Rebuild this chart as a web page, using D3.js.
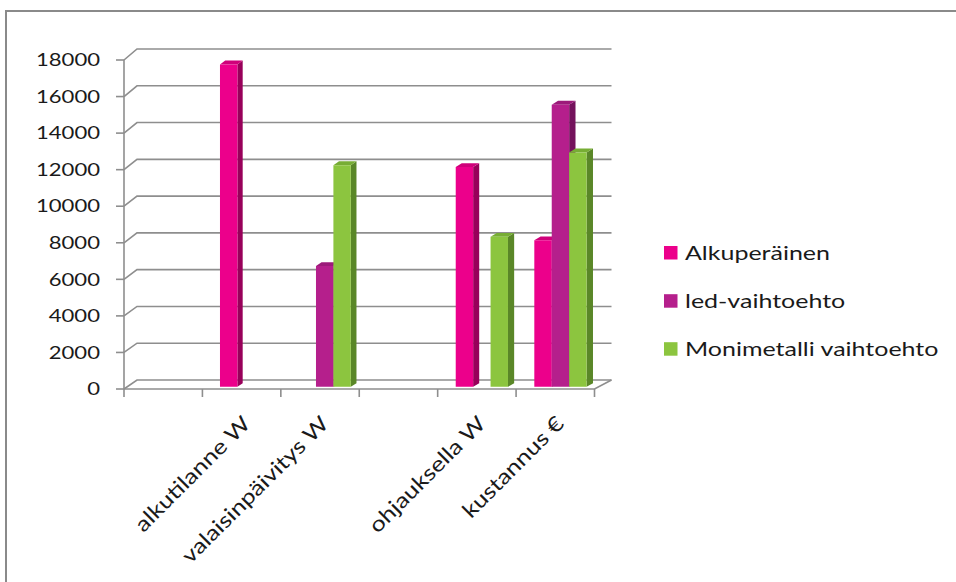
<!DOCTYPE html>
<html>
<head>
<meta charset="utf-8">
<script src="https://cdn.jsdelivr.net/npm/d3@7"></script>
<style>
  html, body { margin: 0; padding: 0; background: #fff; }
  svg { display: block; }
  text { font-family: Lato, "Open Sans", sans-serif; fill: #1a1a1a; }
</style>
</head>
<body>
<svg id="chart" width="956" height="582"></svg>
<script>
// Categories (two empty slots keep the spacing of the original sheet)
const categories = ["", "alkutilanne W", "valaisinpäivitys W", "", "ohjauksella W", "kustannus €"];
const seriesNames = ["Alkuperäinen", "led-vaihtoehto", "Monimetalli vaihtoehto"];
const alkuperainen = [null, 17600, null, null, 12000, 8000];
const ledVaihtoehto = [null, null, 6600, null, null, 15400];
const monimetalli = [null, null, 12100, null, 8200, 12800];
const yTicks = [0, 2000, 4000, 6000, 8000, 10000, 12000, 14000, 16000, 18000];

const seriesValues = [alkuperainen, ledVaihtoehto, monimetalli];
const colors = {
  "Alkuperäinen":           { front: "#ec008b", side: "#98005a", top: "#cf007a" },
  "led-vaihtoehto":         { front: "#b51f8c", side: "#74125c", top: "#9c1a7a" },
  "Monimetalli vaihtoehto": { front: "#8cc53f", side: "#5a8728", top: "#77ad34" }
};

const svg = d3.select("#chart");
const n = categories.length;

// Front plane and back wall of the 3-D box
const xFront = d3.scaleLinear().domain([0, n]).range([124, 594.5]);
const xBack  = d3.scaleLinear().domain([0, n]).range([137, 611.5]);
const yFront = d3.scaleLinear().domain([0, 18000]).range([389, 60]);
const yBack  = d3.scaleLinear().domain([0, 18000]).range([380, 49]);

// u: position along category axis, v: value, f: depth (0 = front, 1 = back)
function proj(u, v, f) {
  const xf = xFront(u), xb = xBack(u), yf = yFront(v), yb = yBack(v);
  return [xf + (xb - xf) * f, yf + (yb - yf) * f];
}
const line = d3.line();

// Outer frame
svg.append("rect")
  .attr("x", 6).attr("y", 11).attr("width", 980).attr("height", 620)
  .attr("fill", "none").attr("stroke", "#8a8a8a").attr("stroke-width", 2);

const grid = svg.append("g")
  .attr("fill", "none").attr("stroke", "#8e8e8e").attr("stroke-width", 1.6);

// Gridlines: slanted on the side wall, horizontal on the back wall
yTicks.forEach(t => {
  grid.append("path").attr("d", line([proj(0, t, 0), proj(0, t, 1), proj(n, t, 1)]));
});
// Floor edges
grid.append("path").attr("d", line([proj(0, 0, 0), proj(n, 0, 0), proj(n, 0, 1)]));
// Value axis line and ticks
grid.append("path").attr("d", line([proj(0, 0, 0), proj(0, 18000, 0)]));
yTicks.forEach(t => {
  const [x, y] = proj(0, t, 0);
  grid.append("path").attr("d", line([[x - 8, y], [x, y]]));
});
// Category axis ticks
d3.range(n + 1).forEach(i => {
  const [x, y] = proj(i, 0, 0);
  grid.append("path").attr("d", line([[x, y], [x, y + 8]]));
});

// Value labels
svg.append("g").selectAll("text").data(yTicks).join("text")
  .attr("transform", d => `translate(100,${yFront(d) + 6.2}) scale(1.3,1)`)
  .attr("text-anchor", "end")
  .attr("font-size", 17)
  .text(d => d);

// Category labels, rotated
svg.append("g").selectAll("text").data(categories).join("text")
  .attr("transform", (d, i) => `translate(${xFront(i + 0.5) + 10},${425}) rotate(-45) scale(1.2,1)`)
  .attr("text-anchor", "end")
  .attr("font-size", 21)
  .text(d => d);

// Bars
const inner = d3.scaleBand().domain(seriesNames).range([0.18, 0.845]);
const f0 = 0.25, f1 = 0.63;
const bars = svg.append("g");
categories.forEach((c, i) => {
  seriesNames.forEach((s, k) => {
    const v = seriesValues[k][i];
    if (v == null) return;
    const u0 = i + inner(s), u1 = u0 + inner.bandwidth();
    const col = colors[s];
    const g = bars.append("g");
    g.append("path").attr("fill", col.side)
      .attr("d", line([proj(u1, 0, f0), proj(u1, 0, f1), proj(u1, v, f1), proj(u1, v, f0)]) + "Z");
    g.append("path").attr("fill", col.top)
      .attr("d", line([proj(u0, v, f0), proj(u1, v, f0), proj(u1, v, f1), proj(u0, v, f1)]) + "Z");
    g.append("path").attr("fill", col.front)
      .attr("d", line([proj(u0, 0, f0), proj(u1, 0, f0), proj(u1, v, f0), proj(u0, v, f0)]) + "Z");
  });
});

// Legend
const legendY = [252.5, 300.7, 348.7];
const legend = svg.append("g").selectAll("g").data(seriesNames).join("g")
  .attr("transform", (d, i) => `translate(664,${legendY[i]})`);
legend.append("rect")
  .attr("x", 0).attr("y", -6.5).attr("width", 13.5).attr("height", 13.5)
  .attr("fill", d => colors[d].front);
legend.append("text")
  .attr("transform", `translate(21,7) scale(1.25,1)`)
  .attr("font-size", 20)
  .text(d => d);
</script>
</body>
</html>
